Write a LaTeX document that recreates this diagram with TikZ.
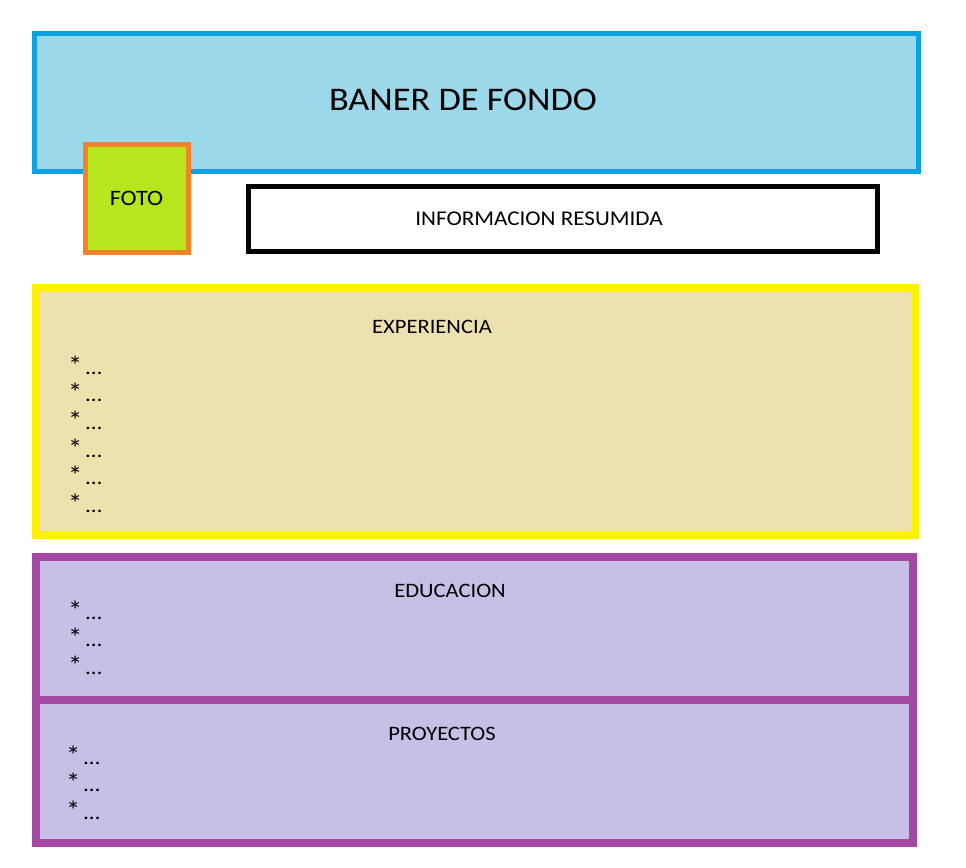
\documentclass[tikz,border=0pt]{standalone}
\usepackage{fontspec}
\setmainfont[FakeStretch=1.1]{Carlito}
\definecolor{banerfill}{HTML}{9BD9EA}
\definecolor{banerline}{HTML}{0AA2E0}
\definecolor{fotofill}{HTML}{B6E61E}
\definecolor{fotoline}{HTML}{F58228}
\definecolor{expfill}{HTML}{EEE1B0}
\definecolor{expline}{HTML}{FFF200}
\definecolor{lilafill}{HTML}{C7BFE6}
\definecolor{lilaline}{HTML}{A349A4}
\newcommand{\punto}{{\fontsize{26}{26}\selectfont*}\,…}
\begin{document}
\begin{tikzpicture}
	[x=1pt,y=-1pt,
	box/.style={rectangle,draw,inner sep=0pt},
	title/.style={font=\fontsize{20.5}{22}\selectfont,inner sep=0pt},
	item/.style={font=\fontsize{21}{22}\selectfont,inner sep=0pt,anchor=base west}]
	\useasboundingbox (0,0) rectangle (966,867);
	\node[box,name=baner,fill=banerfill,draw=banerline,line width=5pt,minimum width=884pt,minimum height=137pt]at(476.5,102.5){};
	\node[title,name=tbaner,font=\fontsize{33}{35}\selectfont]at(463,100){BANER DE FONDO};
	\node[box,name=foto,fill=fotofill,draw=fotoline,line width=5pt,minimum width=103pt,minimum height=108pt,font=\fontsize{22}{24}\selectfont]at(136.5,198){FOTO};
	\node[box,name=info,fill=white,draw=black,line width=5pt,minimum width=628.5pt,minimum height=64.5pt]at(563,218.75){};
	\node[title,name=tinfo,font=\fontsize{21}{22}\selectfont]at(539,219){INFORMACION RESUMIDA};
	\node[box,name=exp,fill=expfill,draw=expline,line width=8pt,minimum width=879pt,minimum height=247pt]at(475.5,411.5){};
	\node[title,name=texp]at(432,327){EXPERIENCIA};
	\node[box,name=edu,fill=lilafill,draw=lilaline,line width=8pt,minimum width=877pt,minimum height=143pt]at(474.5,628.5){};
	\node[box,name=proy,fill=lilafill,draw=lilaline,line width=8pt,minimum width=877pt,minimum height=143pt]at(474.5,771.5){};
	\node[title,name=tedu]at(450,591){EDUCACION};
	\node[title,name=tproy]at(442,734){PROYECTOS};
	\foreach \i in {0,...,5}
		\node[item,name=exp\i]at(68,374+27.7*\i){\punto};
	\foreach \i in {0,...,2}
		\node[item,name=edu\i]at(68,619+27.7*\i){\punto};
	\foreach \i in {0,...,2}
		\node[item,name=proy\i]at(66,764+27.7*\i){\punto};
\end{tikzpicture}
\end{document}
